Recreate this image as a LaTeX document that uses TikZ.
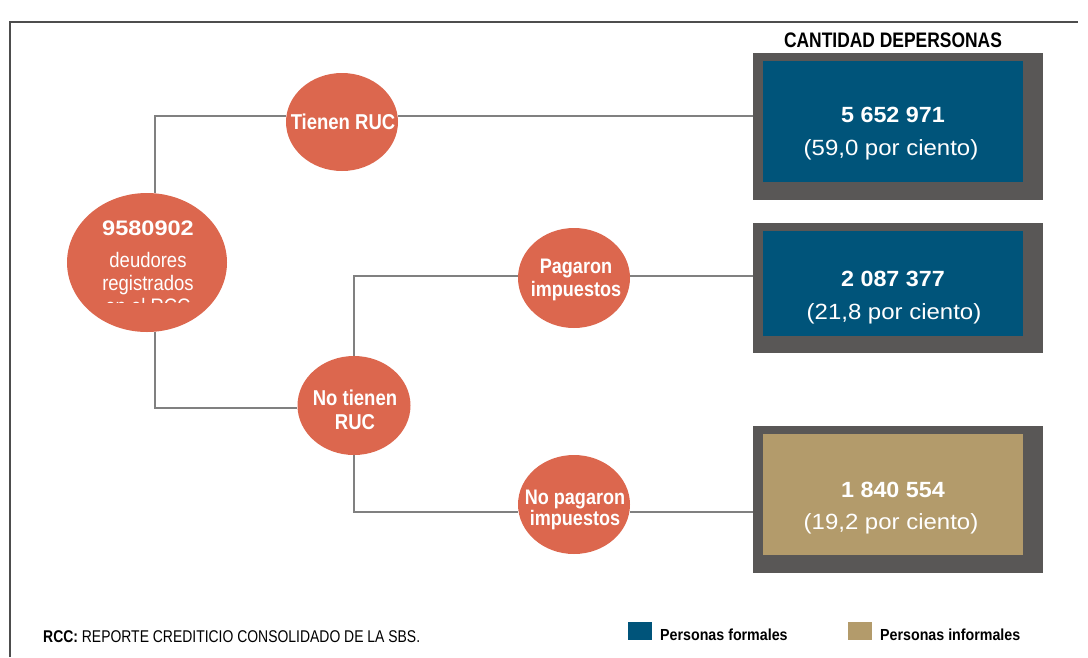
\documentclass[tikz,border=0pt]{standalone}
\usepackage{fontspec}
\setmainfont{Liberation Sans}
\newfontfamily\fhdr[FakeStretch=0.83]{Liberation Sans}
\newfontfamily\fnum[FakeStretch=1.06]{Liberation Sans}
\newfontfamily\fpct[FakeStretch=1.09]{Liberation Sans}
\newfontfamily\fcirc[FakeStretch=0.86]{Liberation Sans}
\newfontfamily\fbig[FakeStretch=1.12]{Liberation Sans}
\newfontfamily\fdeu[FakeStretch=0.88]{Liberation Sans}
\newfontfamily\fnote[FakeStretch=0.82]{Liberation Sans}
\newfontfamily\fleg[FakeStretch=0.89]{Liberation Sans}
\usetikzlibrary{shapes.geometric,backgrounds}
\definecolor{circ}{RGB}{220,103,78}
\definecolor{blu}{RGB}{0,84,122}
\definecolor{tanc}{RGB}{179,155,107}
\definecolor{dgray}{RGB}{89,87,86}
\definecolor{lgray}{RGB}{128,128,128}
\definecolor{framec}{RGB}{77,77,77}
\tikzset{
  conn/.style={draw=lgray, line width=1.6pt},
  bubble/.style={ellipse, fill=circ, draw=none, inner sep=0pt},
  outerbox/.style={rectangle, fill=dgray, draw=none, inner sep=0pt, minimum width=290pt},
  innerbox/.style={rectangle, draw=none, inner sep=0pt, minimum width=260pt},
  wtxt/.style={text=white, inner sep=0pt, anchor=base},
  ktxt/.style={text=black, inner sep=0pt, anchor=base},
}
\begin{document}
\begin{tikzpicture}[x=1pt,y=-1pt]
\useasboundingbox (0,0) rectangle (1088,657);
% frame
\draw[draw=framec, line width=2pt] (10,657) -- (10,22) -- (1078,22);
% header
\node[ktxt] (hdr) at (893,47) {\fhdr\bfseries\fontsize{21}{24}\selectfont CANTIDAD DEPERSONAS};
% boxes
\node[outerbox, minimum height=147pt] (o1) at (898,126.5) {};
\node[innerbox, fill=blu, minimum height=121pt] (i1) at (893,121.5) {};
\node[outerbox, minimum height=130pt] (o2) at (898,288) {};
\node[innerbox, fill=blu, minimum height=105pt] (i2) at (893,283.5) {};
\node[outerbox, minimum height=147pt] (o3) at (898,499.5) {};
\node[innerbox, fill=tanc, minimum height=121pt] (i3) at (893,494.5) {};
% box texts
\node[wtxt] (n1) at (893,122) {\fnum\bfseries\fontsize{22}{24}\selectfont 5 652 971};
\node[wtxt] (p1) at (891,155) {\fpct\fontsize{22}{24}\selectfont (59,0 por ciento)};
\node[wtxt] (n2) at (893,286) {\fnum\bfseries\fontsize{22}{24}\selectfont 2 087 377};
\node[wtxt] (p2) at (894,319) {\fpct\fontsize{22}{24}\selectfont (21,8 por ciento)};
\node[wtxt] (n3) at (893,497) {\fnum\bfseries\fontsize{22}{24}\selectfont 1 840 554};
\node[wtxt] (p3) at (891,529) {\fpct\fontsize{22}{24}\selectfont (19,2 por ciento)};
% bubbles
\node[bubble, minimum width=160pt, minimum height=139pt] (big) at (147,262.5) {};
\node[bubble, minimum width=112pt, minimum height=98pt] (tiene) at (342,122) {};
\node[bubble, minimum width=112pt, minimum height=100pt] (pag) at (574,278) {};
\node[bubble, minimum width=113pt, minimum height=99pt] (notiene) at (354,405.5) {};
\node[bubble, minimum width=112pt, minimum height=99pt] (nopag) at (574,504.5) {};
% bubble texts
\node[wtxt] (tb1) at (148,235) {\fbig\bfseries\fontsize{21}{24}\selectfont 9580902};
\node[wtxt] (tb2) at (148,267) {\fdeu\fontsize{21}{24}\selectfont deudores};
\node[wtxt] (tb3) at (148,290) {\fdeu\fontsize{21}{24}\selectfont registrados};
\begin{scope}
\clip (60,190) rectangle (240,302);
\node[wtxt] (tb4) at (148,313) {\fdeu\fontsize{21}{24}\selectfont en el RCC};
\end{scope}
\node[wtxt] (tt) at (343,129) {\fcirc\bfseries\fontsize{21.5}{24}\selectfont Tienen RUC};
\node[wtxt] (tp1) at (576,273) {\fcirc\bfseries\fontsize{21}{24}\selectfont Pagaron};
\node[wtxt] (tp2) at (576,296) {\fcirc\bfseries\fontsize{21}{24}\selectfont impuestos};
\node[wtxt] (tn1) at (355,405) {\fcirc\bfseries\fontsize{21.5}{24}\selectfont No tienen};
\node[wtxt] (tn2) at (355,429) {\fcirc\bfseries\fontsize{21.5}{24}\selectfont RUC};
\node[wtxt] (tq1) at (575,504) {\fcirc\bfseries\fontsize{21}{24}\selectfont No pagaron};
\node[wtxt] (tq2) at (575,525) {\fcirc\bfseries\fontsize{21}{24}\selectfont impuestos};
% junction coordinates
\coordinate (j1) at (155,116);
\coordinate (j2) at (155,408);
\coordinate (j3) at (354,276);
\coordinate (j4) at (354,512);
\begin{scope}[on background layer]
\draw[conn] (big.north -| j1) -- (j1) -- (tiene.west |- j1);
\draw[conn] (tiene.east |- j1) -- (o1.west |- j1);
\draw[conn] (big.south -| j2) -- (j2) -- (notiene.west |- j2);
\draw[conn] (notiene.north -| j3) -- (j3) -- (pag.west |- j3);
\draw[conn] (pag.east |- j3) -- (o2.west |- j3);
\draw[conn] (notiene.south -| j4) -- (j4) -- (nopag.west |- j4);
\draw[conn] (nopag.east |- j4) -- (o3.west |- j4);
\end{scope}
% footnote and legend
\node[ktxt, anchor=base west] (fn) at (43,642) {\fnote\fontsize{17}{20}\selectfont \textbf{RCC:} REPORTE CREDITICIO CONSOLIDADO DE LA SBS.};
\node[rectangle, fill=blu, inner sep=0pt, minimum width=24pt, minimum height=18pt] (lg1) at (640,631) {};
\node[ktxt, anchor=base west] (lt1) at (660,640) {\fleg\bfseries\fontsize{16}{20}\selectfont Personas formales};
\node[rectangle, fill=tanc, inner sep=0pt, minimum width=24pt, minimum height=18pt] (lg2) at (860,631) {};
\node[ktxt, anchor=base west] (lt2) at (880,640) {\fleg\bfseries\fontsize{16}{20}\selectfont Personas informales};
\end{tikzpicture}
\end{document}
